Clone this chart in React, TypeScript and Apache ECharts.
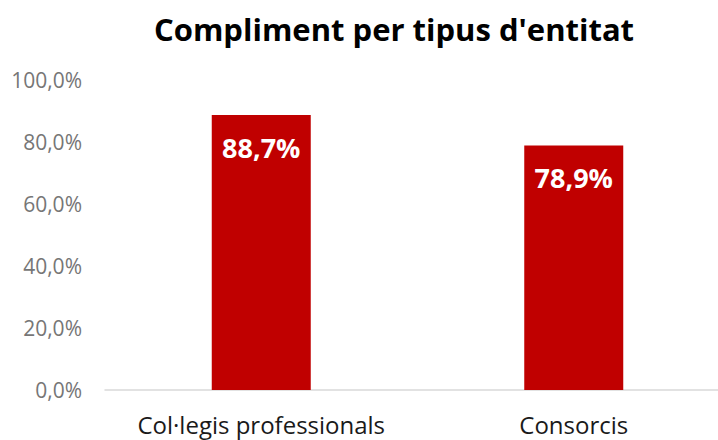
import React, { useEffect, useRef } from "react";
import * as echarts from "echarts";

const categories = ["Col·legis professionals", "Consorcis"];
const values = [88.7, 78.9];
const yTicks = [0, 20, 40, 60, 80, 100];
const titleText = "Compliment per tipus d'entitat";

const fmt = (v: number) => v.toFixed(1).replace(".", ",") + "%";
const FONT = "Open Sans";

export default function App() {
  const ref = useRef<HTMLDivElement>(null);
  useEffect(() => {
    if (!ref.current) return;
    const chart = echarts.init(ref.current, null, { renderer: "svg" });
    chart.setOption({
      animation: false,
      backgroundColor: "#ffffff",
      title: {
        text: titleText,
        left: 389,
        textAlign: "center",
        top: 8,
        textStyle: { fontFamily: FONT, fontWeight: "bold", fontSize: 31, color: "#000000" },
      },
      grid: { left: 105, right: 0, top: 80, bottom: 50, containLabel: false },
      xAxis: {
        type: "category",
        data: categories,
        axisLine: { lineStyle: { color: "#d9d9d9", width: 1.5 } },
        axisTick: { show: false },
        axisLabel: { interval: 0, fontFamily: FONT, fontSize: 24, color: "#1a1a1a", margin: 22 },
      },
      yAxis: {
        type: "value",
        min: yTicks[0],
        max: yTicks[yTicks.length - 1],
        interval: 20,
        splitLine: { show: false },
        axisLine: { show: false },
        axisTick: { show: false },
        axisLabel: {
          fontFamily: FONT,
          fontSize: 21,
          color: "#767676",
          margin: 23,
          formatter: (v: number) => fmt(v),
        },
      },
      series: [
        {
          type: "bar",
          data: values,
          barWidth: 99,
          itemStyle: { color: "#C00000" },
          label: {
            show: true,
            position: "insideTop",
            distance: 19,
            fontFamily: FONT,
            fontWeight: "bold",
            fontSize: 27,
            color: "#ffffff",
            formatter: (p: any) => fmt(p.value),
          },
        },
      ],
    });
    return () => chart.dispose();
  }, []);
  return (
    <div style={{ position: "absolute", left: 0, top: 0, width: 718, height: 440, overflow: "hidden" }}>
      <div ref={ref} style={{ width: 730, height: 440 }} />
    </div>
  );
}
